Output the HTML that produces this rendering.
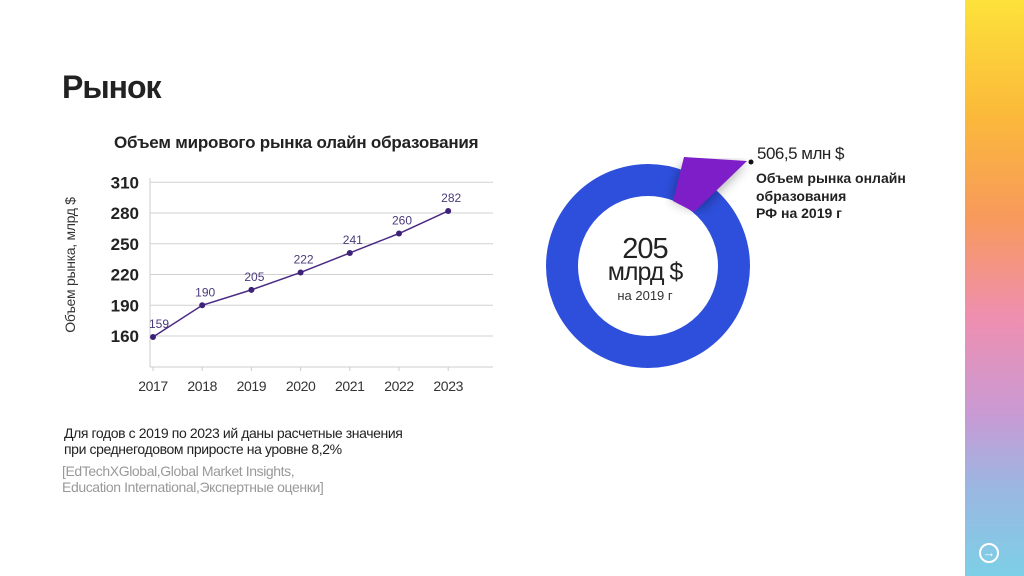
<!DOCTYPE html>
<html><head><meta charset="utf-8"><style>
body{margin:0;width:1024px;height:576px;background:#fff;position:relative;overflow:hidden;font-family:"Liberation Sans",sans-serif;}
.a{position:absolute;}
</style></head><body>
<div class="a" style="left:62px;top:69px;font-size:32px;font-weight:bold;color:#222;letter-spacing:-1px">Рынок</div>
<div class="a" style="left:114px;top:133px;font-size:17px;font-weight:bold;color:#222;letter-spacing:-0.2px">Объем мирового рынка олайн образования</div>
<div class="a" style="left:965px;top:0;width:59px;height:576px;background:linear-gradient(180deg,#fde23a 0%,#fbb93a 20%,#f7995c 38%,#ef8fb0 55%,#c99ad4 72%,#9ab7e2 85%,#7dcfe6 100%)"></div>
<div class="a" style="left:979px;top:543px;width:16px;height:16px;border:2px solid #fff;border-radius:50%;color:#fff;font-size:13px;line-height:16px;text-align:center;font-weight:bold">→</div>
<svg class="a" style="left:0;top:0" width="965" height="576">
<g id="line"></g>
<g>
<defs><filter id="sh"><feGaussianBlur stdDeviation="6"/></filter></defs>
<circle cx="648" cy="266" r="86" fill="none" stroke="#2e4fdc" stroke-width="32"/>
<polygon points="683,164 746,163 700,210 672,200" fill="#000" opacity="0.35" filter="url(#sh)"/>
<polygon points="684,157 747,161 694,212 673,201" fill="#7e1ec8"/>
<circle cx="751" cy="162" r="2.5" fill="#111"/>
<text x="645" y="258" text-anchor="middle" font-size="29" fill="#222" letter-spacing="-1">205</text>
<text x="645" y="280" text-anchor="middle" font-size="25" fill="#222" letter-spacing="-1">млрд $</text>
<text x="645" y="300" text-anchor="middle" font-size="13" fill="#333">на 2019 г</text>
<text x="757" y="159" font-size="17" fill="#222" letter-spacing="-0.5">506,5 млн $</text>
<text font-size="14" font-weight="bold" fill="#222"><tspan x="756" y="183">Объем рынка онлайн</tspan><tspan x="756" y="201">образования</tspan><tspan x="756" y="218">РФ на 2019 г</tspan></text>
</g>
<text transform="translate(75,265) rotate(-90)" text-anchor="middle" font-size="14" fill="#333" letter-spacing="-0.3">Объем рынка, млрд $</text>
</svg>
<div class="a" style="left:64px;top:425px;font-size:14px;color:#222;line-height:16px;letter-spacing:-0.4px">Для годов с 2019 по 2023 ий даны расчетные значения<br>при среднегодовом приросте на уровне 8,2%</div>
<div class="a" style="left:62px;top:463px;font-size:14px;color:#999;line-height:16px;letter-spacing:-0.4px">[EdTechXGlobal,Global Market Insights,<br>Education International,Экспертные оценки]</div>
<script>
const years=["2017","2018","2019","2020","2021","2022","2023"];
const values=[159,190,205,222,241,260,282];
const yTicks=[160,190,220,250,280,310];
const NS="http://www.w3.org/2000/svg";
const g=document.getElementById('line');
const yS=v=>336-(v-160)*1.025;
const xS=i=>153+i*49.2;
function mk(t,a,txt){const e=document.createElementNS(NS,t);for(const k in a)e.setAttribute(k,a[k]);if(txt!=null)e.textContent=txt;g.appendChild(e);return e;}
yTicks.forEach(t=>{
 const l=mk('line',{x1:150,x2:493,y1:yS(t),y2:yS(t),stroke:'#d0d0d0','stroke-width':1});
 
 
 const tx=mk('text',{x:139,y:yS(t)+6,'text-anchor':'end','font-size':17,'font-weight':'bold',fill:'#222'},t);
 
 
});
mk('line',{x1:150,x2:150,y1:178,y2:367,stroke:'#ccc'});
mk('line',{x1:150,x2:493,y1:367,y2:367,stroke:'#ccc'});
years.forEach((y,i)=>{
 mk('line',{x1:xS(i),x2:xS(i),y1:367,y2:371,stroke:'#ccc'});
 const tx=mk('text',{x:xS(i),y:391,'text-anchor':'middle','font-size':14,fill:'#333','letter-spacing':-0.4},y);
 
 
});
const p=mk('polyline',{points:values.map((v,i)=>xS(i)+','+yS(v)).join(' '),fill:'none',stroke:'#4b2a85','stroke-width':1.5});


values.forEach((v,i)=>{
 const c=mk('circle',{cx:xS(i),cy:yS(v),r:3,fill:'#3d2278'});
 
 
 const t=mk('text',{x:xS(i)+(i==0?6:3),y:yS(v)-9,'text-anchor':'middle','font-size':12,fill:'#4b3a7a'},v);
 
 
});
</script>
</body></html>
